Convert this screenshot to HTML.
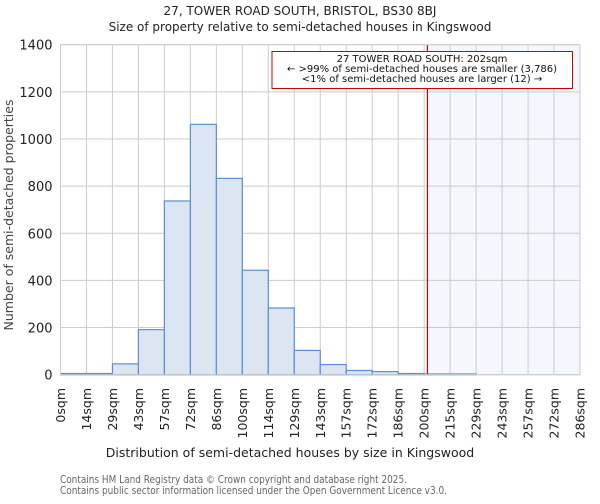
<!DOCTYPE html>
<html><head><meta charset="utf-8"><style>
body{margin:0;background:#fff;font-family:"DejaVu Sans","Liberation Sans",sans-serif;}
svg text{font-family:"DejaVu Sans","Liberation Sans",sans-serif;}
</style></head><body>
<svg id="chart" width="600" height="500">
<text x="300" y="15" text-anchor="middle" font-size="12" fill="#222">27, TOWER ROAD SOUTH, BRISTOL, BS30 8BJ</text>
<text x="300" y="31" text-anchor="middle" font-size="12" fill="#222">Size of property relative to semi-detached houses in Kingswood</text>
<g id="plot"></g>
<text x="290" y="457" text-anchor="middle" font-size="12.5" fill="#222">Distribution of semi-detached houses by size in Kingswood</text>
<text transform="translate(13,215) rotate(-90)" text-anchor="middle" font-size="12.5" fill="#444">Number of semi-detached properties</text>
<text x="60" y="483" font-size="11" fill="#666" textLength="347" lengthAdjust="spacingAndGlyphs">Contains HM Land Registry data © Crown copyright and database right 2025.</text>
<text x="60" y="494" font-size="11" fill="#666" textLength="387" lengthAdjust="spacingAndGlyphs">Contains public sector information licensed under the Open Government Licence v3.0.</text>
</svg>
<script>
const xTickLabels=["0sqm","14sqm","29sqm","43sqm","57sqm","72sqm","86sqm","100sqm","114sqm","129sqm","143sqm","157sqm","172sqm","186sqm","200sqm","215sqm","229sqm","243sqm","257sqm","272sqm","286sqm"];
const counts=[5,5,46,191,737,1062,833,443,283,103,43,18,13,5,3,3,0,0,0,0];
const yTicks=[0,200,400,600,800,1000,1200,1400];
const binWidthSqm=14.3;
const propertySize=202;
const NS="http://www.w3.org/2000/svg";
const L=60.5,R=580,T=44.7,B=374.7;
const nb=counts.length;
const xs=i=>L+(R-L)*i/nb;
const xv=v=>L+(R-L)*v/(binWidthSqm*nb);
const ys=v=>B-(B-T)*v/1400;
const g=document.getElementById('plot');
function mk(t,a){const e=document.createElementNS(NS,t);for(const k in a)e.setAttribute(k,a[k]);g.appendChild(e);return e;}
const px=xv(propertySize);
let e=mk('rect',{x:px,y:T,width:R-px,height:B-T,fill:'#f4f7fd'});


yTicks.forEach(v=>{
 let l=mk('line',{x1:L,x2:R,y1:ys(v),y2:ys(v),stroke:'#ccc','stroke-width':1});
 
 
 let t=mk('text',{x:L-8,y:ys(v)+5,'text-anchor':'end','font-size':13,fill:'#222'});
 t.textContent=v;
 
 
});
xTickLabels.forEach((s,i)=>{
 let l=mk('line',{x1:xs(i),x2:xs(i),y1:T,y2:B,stroke:'#ccc','stroke-width':1});
 
 
 let t=mk('text',{transform:`translate(${xs(i)+4.5},388) rotate(-90)`,'text-anchor':'end','font-size':12.5,fill:'#222'});
 t.textContent=s;
 
 
});
counts.forEach((c,i)=>{
 if(c<=0)return;
 let r=mk('rect',{x:xs(i),y:ys(c),width:xs(i+1)-xs(i),height:B-ys(c),fill:'#dce6f3',stroke:'#5a8fd6','stroke-width':1.2});
 
 
});
e=mk('line',{x1:px,x2:px,y1:T,y2:B,stroke:'#c00','stroke-width':1.2});


e=mk('rect',{x:L,y:T,width:R-L,height:B-T,fill:'none',stroke:'#ccc','stroke-width':1});


e=mk('rect',{x:272,y:51.5,width:300.5,height:37,fill:'#fff',stroke:'#c00','stroke-width':1});


["27 TOWER ROAD SOUTH: 202sqm","← >99% of semi-detached houses are smaller (3,786)","<1% of semi-detached houses are larger (12) →"].forEach((s,i)=>{
 let t=mk('text',{x:422,y:62+i*10,'text-anchor':'middle','font-size':10,fill:'#111'});
 t.textContent=s;
 
 
});
</script>
</body></html>
